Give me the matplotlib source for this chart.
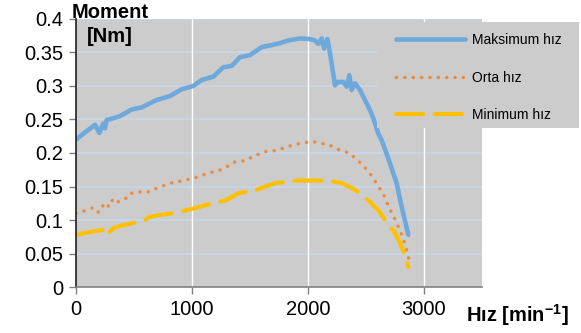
import matplotlib
matplotlib.use('Agg')
import matplotlib.pyplot as plt
from matplotlib.patches import Rectangle

plt.rcParams['font.family'] = ['Liberation Sans', 'DejaVu Sans']
plt.rcParams['mathtext.fontset'] = 'custom'
plt.rcParams['mathtext.rm'] = 'Liberation Sans'
plt.rcParams['mathtext.bf'] = 'Liberation Sans:bold'

# speed [min-1] and torque [Nm]
max_x = [0, 80, 164, 201, 235, 250, 264, 379, 480, 566, 695, 810, 911, 1011,
         1083, 1184, 1270, 1342, 1414, 1500, 1601, 1687, 1759, 1831, 1931,
         2017, 2060, 2089, 2118, 2138, 2167, 2190, 2233, 2261, 2304, 2334,
         2356, 2376, 2405, 2448, 2491, 2534, 2563, 2606, 2635, 2692, 2764,
         2807, 2865]
max_y = [0.220, 0.231, 0.242, 0.230, 0.244, 0.237, 0.249, 0.255, 0.265, 0.268,
         0.279, 0.285, 0.295, 0.300, 0.309, 0.314, 0.328, 0.330, 0.343, 0.346,
         0.358, 0.361, 0.364, 0.368, 0.371, 0.370, 0.368, 0.363, 0.371, 0.356,
         0.370, 0.349, 0.301, 0.306, 0.306, 0.299, 0.316, 0.294, 0.304, 0.294,
         0.279, 0.264, 0.252, 0.229, 0.219, 0.192, 0.155, 0.120, 0.078]

mid_x = [0, 78, 141, 184, 227, 235, 264, 293, 316, 351, 414, 451, 480, 566,
         609, 690, 816, 925, 1026, 1141, 1250, 1305, 1351, 1471, 1514, 1629,
         1695, 1750, 1853, 1945, 2046, 2103, 2195, 2247, 2356, 2442, 2520,
         2586, 2649, 2698, 2750, 2802, 2842, 2873, 2888]
mid_y = [0.110, 0.114, 0.118, 0.111, 0.116, 0.125, 0.122, 0.120, 0.131, 0.126,
         0.132, 0.133, 0.140, 0.142, 0.141, 0.147, 0.155, 0.159, 0.163, 0.170,
         0.175, 0.180, 0.186, 0.189, 0.194, 0.202, 0.203, 0.205, 0.211, 0.215,
         0.217, 0.215, 0.211, 0.206, 0.200, 0.187, 0.173, 0.156, 0.139, 0.119,
         0.101, 0.081, 0.061, 0.039, 0.034]

min_x = [0, 149, 235, 244, 279, 322, 394, 451, 523, 595, 638, 710, 825, 897,
         954, 1011, 1112, 1184, 1299, 1399, 1543, 1601, 1716, 1816, 1917,
         2046, 2190, 2276, 2376, 2448, 2534, 2615, 2664, 2707, 2736, 2793,
         2836, 2865]
min_y = [0.078, 0.083, 0.085, 0.078, 0.080, 0.088, 0.0915, 0.094, 0.0965,
         0.100, 0.105, 0.107, 0.110, 0.112, 0.115, 0.117, 0.122, 0.125, 0.130,
         0.140, 0.144, 0.148, 0.155, 0.157, 0.159, 0.159, 0.158, 0.156, 0.148,
         0.140, 0.127, 0.113, 0.100, 0.088, 0.085, 0.066, 0.048, 0.030]

labels = ['Maksimum hız', 'Orta hız', 'Minimum hız']
y_ticks = [0, 0.05, 0.1, 0.15, 0.2, 0.25, 0.3, 0.35, 0.4]
y_tick_labels = ['0', '0.05', '0.1', '0.15', '0.2', '0.25', '0.3', '0.35', '0.4']
x_ticks = [0, 1000, 2000, 3000]

BLUE = '#6EA9DC'
ORANGE = '#EE8A3A'
YELLOW = '#FFC000'
GRAY = '#CCCCCC'

fig = plt.figure(figsize=(5.81, 3.33), dpi=100)
ax = fig.add_axes([0.1308, 0.1381, 0.6988, 0.8049])
ax.set_facecolor(GRAY)

ax.plot(max_x, max_y, color=BLUE, lw=3.3, solid_capstyle='round',
        solid_joinstyle='round', label=labels[0])
ax.plot(mid_x, mid_y, color=ORANGE, lw=2.5, dashes=(0.01, 2.4),
        dash_capstyle='round', label=labels[1])
ax.plot(min_x, min_y, color=YELLOW, lw=3.0, dashes=(6.5, 2.8),
        dash_capstyle='round', label=labels[2])

ax.set_xlim(0, 3500)
ax.set_ylim(0, 0.4)
ax.set_xticks(x_ticks)
ax.set_yticks(y_ticks)
ax.set_yticklabels(y_tick_labels)
ax.tick_params(labelsize=14.5, length=5, width=1, color='#808080', pad=4)

for y in y_ticks[1:]:
    ax.axhline(y, color='#C5DAF0', lw=1.1, zorder=0.5)
for x in x_ticks[1:]:
    ax.axvline(x, color='white', lw=1.0, zorder=0.5)

for side in ['top', 'right']:
    ax.spines[side].set_visible(False)
ax.spines['left'].set_color('#202020')
ax.spines['bottom'].set_color('#808080')
ax.spines['left'].set_linewidth(1.2)
ax.spines['bottom'].set_linewidth(1.2)

fig.text(110 / 581, 1 - 18 / 333, 'Moment', fontsize=14.5, fontweight='bold',
         ha='center', va='baseline')
fig.text(110 / 581, 1 - 42 / 333, '[Nm]', fontsize=14.5, fontweight='bold',
         ha='center', va='baseline')
fig.text(466 / 581, 1 - 322 / 333, r'Hız [min$^{\mathbf{-1}}$]', fontsize=14.5,
         fontweight='bold', ha='left', va='baseline')

# legend background box sticks out past the plot area
fig.patches.append(Rectangle((377 / 581, 1 - 128 / 333), 202 / 581, 106 / 333,
                             transform=fig.transFigure, facecolor=GRAY,
                             edgecolor='none', zorder=1))
fig.legend(loc='upper left', bbox_to_anchor=(396 / 581, 1 - 33 / 333),
           fontsize=10, frameon=False, handlelength=5.0,
           handletextpad=0.45, labelspacing=1.7, borderpad=0,
           borderaxespad=0)

fig.savefig('out.png', dpi=100)
